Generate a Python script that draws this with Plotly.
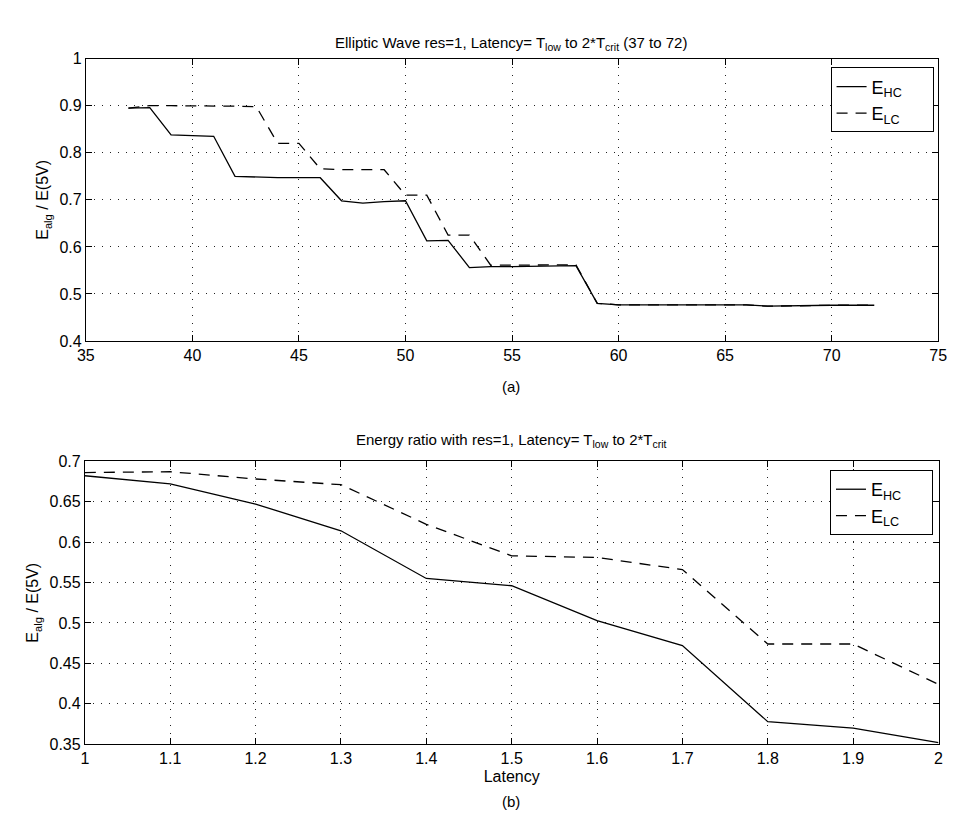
import plotly.graph_objects as go

# ---- data: top panel (a) ----
lat_a = [37, 38, 39, 40, 41, 42, 43, 44, 45, 46, 47, 48, 49, 50, 51, 52, 53, 54,
         55, 56, 57, 58, 59, 60, 61, 62, 63, 64, 65, 66, 67, 68, 69, 70, 71, 72]
ehc_a = [0.895, 0.896, 0.838, 0.836, 0.835, 0.750, 0.748, 0.747, 0.747, 0.747,
         0.698, 0.693, 0.696, 0.698, 0.613, 0.614, 0.556, 0.558, 0.558, 0.559,
         0.559, 0.560, 0.480, 0.477, 0.477, 0.477, 0.477, 0.477, 0.477, 0.477,
         0.474, 0.475, 0.475, 0.476, 0.476, 0.476]
elc_a = [0.895, 0.900, 0.900, 0.900, 0.900, 0.899, 0.898, 0.820, 0.820, 0.766,
         0.764, 0.764, 0.764, 0.710, 0.710, 0.625, 0.625, 0.561, 0.561, 0.561,
         0.562, 0.562, 0.480, 0.477, 0.477, 0.477, 0.477, 0.477, 0.477, 0.477,
         0.474, 0.475, 0.475, 0.476, 0.476, 0.476]

# ---- data: bottom panel (b) ----
lat_b = [1.0, 1.1, 1.2, 1.3, 1.4, 1.5, 1.6, 1.7, 1.8, 1.9, 2.0]
ehc_b = [0.682, 0.672, 0.647, 0.614, 0.555, 0.546, 0.503, 0.472, 0.378, 0.370, 0.352]
elc_b = [0.686, 0.687, 0.678, 0.671, 0.622, 0.583, 0.581, 0.566, 0.474, 0.474, 0.424]

xt_a = [35, 40, 45, 50, 55, 60, 65, 70, 75]
yt_a = [0.4, 0.5, 0.6, 0.7, 0.8, 0.9, 1.0]
yt_a_txt = ["0.4", "0.5", "0.6", "0.7", "0.8", "0.9", "1"]
xt_b = [1.0, 1.1, 1.2, 1.3, 1.4, 1.5, 1.6, 1.7, 1.8, 1.9, 2.0]
xt_b_txt = ["1", "1.1", "1.2", "1.3", "1.4", "1.5", "1.6", "1.7", "1.8", "1.9", "2"]
yt_b = [0.35, 0.4, 0.45, 0.5, 0.55, 0.6, 0.65, 0.7]
yt_b_txt = ["0.35", "0.4", "0.45", "0.5", "0.55", "0.6", "0.65", "0.7"]

W, H = 958, 829
FONT = "Liberation Sans, Arial, Helvetica, sans-serif"
DASH = "11px,8px"
PAD = "&nbsp;&nbsp;&nbsp;&nbsp;&nbsp;"

fig = go.Figure()
fig.add_trace(go.Scatter(x=lat_a, y=ehc_a, mode="lines", name="E<sub>HC</sub>" + PAD,
                         line=dict(color="black", width=1.3), xaxis="x", yaxis="y",
                         legend="legend"))
fig.add_trace(go.Scatter(x=lat_a, y=elc_a, mode="lines", name="E<sub>LC</sub>" + PAD,
                         line=dict(color="black", width=1.3, dash=DASH), xaxis="x", yaxis="y",
                         legend="legend"))
fig.add_trace(go.Scatter(x=lat_b, y=ehc_b, mode="lines", name="E<sub>HC</sub>" + PAD,
                         line=dict(color="black", width=1.3), xaxis="x2", yaxis="y2",
                         legend="legend2"))
fig.add_trace(go.Scatter(x=lat_b, y=elc_b, mode="lines", name="E<sub>LC</sub>" + PAD,
                         line=dict(color="black", width=1.3, dash=DASH), xaxis="x2", yaxis="y2",
                         legend="legend2"))


def px_x(p):
    return p / W


def px_y(p):
    return 1 - p / H


axis_common = dict(showline=True, linecolor="black", linewidth=1, mirror="ticks",
                   ticks="inside", ticklen=6, tickcolor="black",
                   showgrid=True, gridcolor="#222222", griddash="1px,7px", gridwidth=1,
                   zeroline=False, tickfont=dict(family=FONT, size=16, color="black"))

fig.update_layout(
    width=W, height=H,
    margin=dict(l=0, r=0, t=0, b=0),
    paper_bgcolor="white", plot_bgcolor="white",
    font=dict(family=FONT, color="black"),
    xaxis=dict(domain=[px_x(78.3), px_x(947)], range=[35, 75], tickvals=xt_a,
               anchor="y", **axis_common),
    yaxis=dict(domain=[px_y(340), px_y(51.7)], range=[0.4, 1.0], tickvals=yt_a,
               ticktext=yt_a_txt, anchor="x",
               title=dict(text="E<sub>alg</sub> / E(5V)", font=dict(family=FONT, size=16),
                          standoff=6),
               **axis_common),
    xaxis2=dict(domain=[px_x(77.3), px_x(947.3)], range=[1.0, 2.0], tickvals=xt_b,
                ticktext=xt_b_txt, anchor="y2",
                title=dict(text="Latency", font=dict(family=FONT, size=16), standoff=4),
                **axis_common),
    yaxis2=dict(domain=[px_y(751.7), px_y(462.7)], range=[0.35, 0.7], tickvals=yt_b,
                ticktext=yt_b_txt, anchor="x2",
                title=dict(text="E<sub>alg</sub> / E(5V)", font=dict(family=FONT, size=16),
                           standoff=6),
                **axis_common),
    legend=dict(x=px_x(837.3), y=px_y(60.7), xanchor="left", yanchor="top",
                bordercolor="black", borderwidth=1, bgcolor="white",
                font=dict(family=FONT, size=18, color="black"),
                itemwidth=30, tracegroupgap=0),
    legend2=dict(x=px_x(836.7), y=px_y(471.7), xanchor="left", yanchor="top",
                 bordercolor="black", borderwidth=1, bgcolor="white",
                 font=dict(family=FONT, size=18, color="black"),
                 itemwidth=30, tracegroupgap=0),
    showlegend=True,
)

annots = [
    dict(text="Elliptic Wave res=1, Latency= T<sub>low</sub> to 2*T<sub>crit</sub> (37 to 72)",
         x=px_x(512), y=px_y(36)),
    dict(text="(a)", x=px_x(512), y=px_y(386)),
    dict(text="Energy ratio with res=1, Latency= T<sub>low</sub> to 2*T<sub>crit</sub>",
         x=px_x(512), y=px_y(442)),
    dict(text="(b)", x=px_x(512), y=px_y(810)),
]
for a in annots:
    fig.add_annotation(text=a["text"], x=a["x"], y=a["y"], xref="paper", yref="paper",
                       showarrow=False, xanchor="center", yanchor="middle",
                       font=dict(family=FONT, size=15, color="black"))

fig.write_html("out.html",
               config={"displayModeBar": False},
               post_script="document.body.style.margin='0';"
                           "document.body.style.overflow='hidden';")
